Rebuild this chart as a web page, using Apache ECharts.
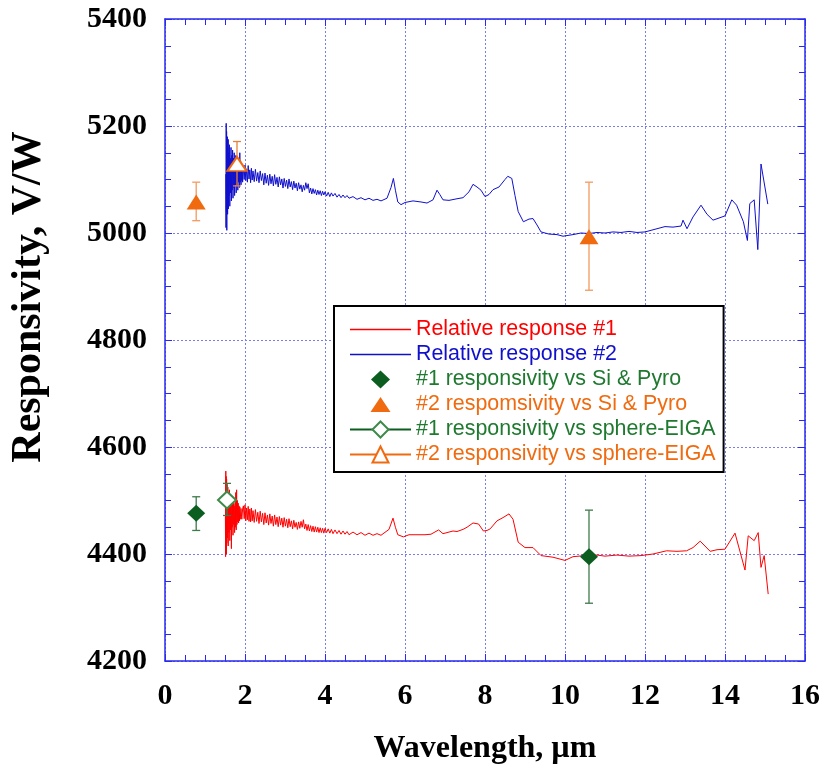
<!DOCTYPE html>
<html>
<head>
<meta charset="utf-8">
<script src="https://cdn.jsdelivr.net/npm/echarts@6/dist/echarts.min.js"></script>
<style>
  html, body { margin: 0; padding: 0; background: #fff; }
  #main { width: 819px; height: 771px; }
</style>
</head>
<body>
<div id="main"></div>
<script>
// relative response curves, [wavelength um, V/W]
var response1 = [
  [1.51,4470],[1.515,4395],[1.52,4555],[1.525,4410],[1.53,4545],[1.535,4400],[1.54,4540],[1.545,4420],
  [1.55,4530],[1.56,4430],[1.57,4525],[1.58,4415],[1.59,4515],[1.6,4440],[1.61,4520],[1.62,4425],
  [1.63,4510],[1.64,4445],[1.65,4500],[1.66,4410],[1.67,4505],[1.68,4450],[1.69,4495],[1.7,4435],
  [1.71,4500],[1.72,4455],[1.73,4490],[1.74,4440],[1.75,4495],[1.76,4450],[1.77,4515],[1.78,4445],
  [1.79,4520],[1.8,4455],[1.81,4500],[1.82,4460],[1.83,4495],[1.84,4458],[1.85,4490],[1.86,4462],
  [1.87,4488],[1.88,4465],[1.9,4485],[1.92,4465],[1.94,4484],
  [1.96,4490],[1.98,4466],[2.0,4492],[2.02,4462],[2.04,4486],[2.06,4464],[2.08,4489],[2.1,4461],
  [2.12,4484],[2.14,4460],[2.16,4486],[2.18,4462],[2.2,4481],[2.23,4459],[2.26,4483],[2.29,4461],
  [2.32,4478],[2.35,4457],[2.38,4480],[2.41,4460],[2.44,4476],[2.47,4455],[2.5,4477],[2.53,4458],
  [2.56,4473],[2.59,4454],[2.62,4475],[2.65,4457],[2.68,4471],[2.71,4452],[2.74,4473],[2.77,4455],
  [2.8,4469],[2.83,4451],[2.86,4470],[2.89,4454],[2.92,4467],[2.95,4450],[2.98,4468],[3.01,4452],
  [3.04,4465],[3.07,4449],[3.1,4466],[3.13,4451],[3.16,4462],[3.19,4447],[3.22,4463],[3.25,4450],
  [3.28,4459],[3.31,4446],[3.34,4460],[3.37,4448],[3.4,4461],[3.43,4450],[3.46,4464],[3.49,4447],
  [3.52,4456],[3.55,4444],[3.58,4455],[3.61,4443],[3.64,4453],[3.67,4442],[3.7,4452],[3.73,4441],
  [3.76,4451],[3.79,4441],[3.82,4450],[3.85,4440],[3.88,4449],[3.91,4440],[3.94,4448],[3.97,4439],
  [4.0,4448],[4.04,4440],[4.08,4447],[4.12,4439],[4.16,4446],[4.2,4438],[4.25,4445],[4.3,4438],
  [4.35,4444],[4.4,4437],[4.45,4443],[4.5,4437],[4.55,4442],[4.6,4436],[4.7,4441],[4.8,4436],
  [4.9,4440],[5.0,4435],[5.1,4439],[5.2,4435],[5.3,4438],[5.4,4435],
  [5.6,4446],[5.7,4467],[5.76,4450],[5.82,4436],[5.96,4432],[6.1,4436],
  [6.3,4436],[6.5,4436],[6.65,4437],[6.84,4445],[6.95,4438],[7.05,4440],[7.2,4443],[7.3,4442],
  [7.45,4446],[7.55,4450],[7.7,4458],[7.84,4456],[7.96,4443],[8.05,4444],[8.13,4447],[8.3,4462],
  [8.45,4468],[8.6,4475],[8.7,4465],[8.83,4422],[9.0,4412],[9.2,4412],[9.4,4397],[9.7,4394],
  [10.0,4388],[10.2,4395],[10.5,4397],[10.8,4398],[11.0,4396],[11.3,4398],[11.6,4396],[11.9,4397],
  [12.2,4400],[12.54,4406],[12.8,4405],[13.04,4406],[13.2,4412],[13.38,4424],[13.63,4405],[13.8,4408],
  [14.0,4409],[14.25,4439],[14.5,4370],[14.58,4434],[14.73,4425],[14.83,4440],[14.9,4375],[14.98,4397],
  [15.08,4325]
];
var response2 = [
  [1.52,5110],[1.525,5010],[1.53,5205],[1.535,5040],[1.54,5190],[1.545,5005],[1.55,5170],[1.555,5050],
  [1.56,5180],[1.565,5035],[1.57,5160],[1.575,5060],[1.58,5175],[1.585,5045],[1.59,5150],[1.6,5070],
  [1.61,5165],[1.62,5050],[1.63,5140],[1.64,5075],[1.65,5160],[1.66,5060],[1.67,5145],[1.68,5080],
  [1.69,5155],[1.7,5065],[1.71,5140],[1.72,5085],[1.73,5150],[1.74,5070],[1.75,5135],[1.76,5090],
  [1.77,5145],[1.78,5075],[1.79,5130],[1.8,5090],[1.81,5140],[1.82,5080],[1.83,5135],[1.84,5095],
  [1.85,5130],[1.86,5085],[1.87,5150],[1.88,5095],[1.89,5135],[1.9,5090],[1.91,5128],[1.92,5098],
  [1.93,5125],[1.94,5095],
  [1.96,5124],[1.98,5100],[2.0,5127],[2.02,5098],[2.04,5120],[2.06,5095],[2.08,5126],[2.1,5101],
  [2.12,5118],[2.14,5094],[2.16,5121],[2.18,5099],[2.2,5116],[2.23,5096],[2.26,5119],[2.29,5097],
  [2.32,5113],[2.35,5094],[2.38,5116],[2.41,5098],[2.44,5111],[2.47,5090],[2.5,5112],[2.53,5093],
  [2.56,5108],[2.59,5089],[2.62,5110],[2.65,5092],[2.68,5106],[2.71,5088],[2.74,5109],[2.77,5091],
  [2.8,5104],[2.83,5086],[2.86,5105],[2.89,5090],[2.92,5101],[2.95,5084],[2.98,5102],[3.01,5087],
  [3.04,5099],[3.07,5083],[3.1,5101],[3.13,5086],[3.16,5096],[3.19,5081],[3.22,5097],[3.25,5084],
  [3.28,5093],[3.31,5079],[3.34,5094],[3.37,5082],[3.4,5090],[3.43,5077],[3.46,5089],[3.49,5080],
  [3.52,5094],[3.55,5083],[3.58,5092],[3.61,5075],[3.64,5084],[3.67,5073],[3.7,5083],[3.73,5074],
  [3.76,5081],[3.79,5071],[3.82,5080],[3.85,5072],[3.88,5079],[3.91,5070],[3.94,5078],[3.97,5071],
  [4.0,5077],[4.04,5069],[4.08,5076],[4.12,5068],[4.16,5075],[4.2,5069],[4.25,5074],[4.3,5067],
  [4.35,5072],[4.4,5066],[4.45,5071],[4.5,5066],[4.55,5070],[4.6,5065],[4.7,5068],[4.8,5063],
  [4.9,5066],[5.0,5062],[5.1,5065],[5.2,5061],[5.3,5063],[5.4,5060],
  [5.55,5065],[5.65,5085],[5.71,5102],[5.76,5080],[5.82,5058],[5.9,5053],[6.0,5057],[6.2,5060],
  [6.4,5058],[6.55,5056],[6.7,5062],[6.8,5080],[6.87,5072],[6.95,5062],[7.1,5061],[7.3,5064],
  [7.45,5066],[7.6,5077],[7.7,5091],[7.8,5086],[7.9,5080],[8.0,5068],[8.1,5072],[8.2,5081],
  [8.35,5086],[8.5,5100],[8.57,5106],[8.67,5102],[8.75,5070],[8.83,5040],[8.96,5021],[9.1,5026],
  [9.2,5027],[9.3,5015],[9.4,5002],[9.6,4998],[9.8,4997],[9.95,4994],[10.2,4997],[10.4,5000],
  [10.6,4999],[10.8,5001],[11.0,5000],[11.2,5002],[11.4,5001],[11.6,5003],[11.8,5001],[12.0,5002],
  [12.2,5006],[12.5,5012],[12.7,5011],[12.9,5013],[12.95,5024],[13.05,5008],[13.2,5030],[13.4,5052],
  [13.55,5035],[13.7,5024],[13.85,5028],[14.0,5032],[14.17,5062],[14.29,5052],[14.46,5021],[14.56,4986],
  [14.62,5055],[14.73,5062],[14.82,4969],[14.9,5129],[15.07,5054]
];

// responsivity points: [wavelength, value], error bars: [wavelength, low, high]
var siPyro1 = [[0.78, 4476], [10.6, 4395]];
var siPyro1Err = [[0.78, 4444, 4507], [10.6, 4308, 4482]];
var siPyro2 = [[0.78, 5058], [10.6, 4993]];
var siPyro2Err = [[0.78, 5023, 5095], [10.6, 4893, 5095]];
var sphere1 = [[1.55, 4501]];
var sphere1Err = [[1.55, 4472, 4532]];
var sphere2 = [[1.8, 5129]];
var sphere2Err = [[1.8, 5088, 5171]];

var names = [
  'Relative response #1',
  'Relative response #2',
  '#1 responsivity vs Si & Pyro',
  '#2 respomsivity vs Si & Pyro',
  '#1 responsivity vs sphere-EIGA',
  '#2 responsivity vs sphere-EIGA'
];

var RED = '#ff0000', BLUE = '#1010cc', GREEN = '#0b5e1f', ORANGE = '#f06a10';
var TXT_GREEN = '#1f7a30';
var AXIS = '#2a2aee';
var serif = 'Liberation Serif';

// legend icons, drawn in a 61x20 box
var ICON_LINE = 'path://M0,0M61,20M0,9.2L61,9.2L61,10.8L0,10.8Z';
var ICON_DIAMOND = 'path://M0,0M61,20M30.5,1L40,10L30.5,19L21,10Z';
var ICON_TRIANGLE = 'path://M0,0M61,20M30.5,2.5L40.5,17.5L20.5,17.5Z';

var chart = echarts.init(document.getElementById('main'));

function errBar(params, api) {
  var x = api.value(0);
  var top = api.coord([x, api.value(2)]);
  var bot = api.coord([x, api.value(1)]);
  var w = 4;
  var st = { stroke: api.visual('color'), lineWidth: 1.3 };
  return {
    type: 'group',
    children: [
      { type: 'line', shape: { x1: top[0], y1: top[1], x2: bot[0], y2: bot[1] }, style: st },
      { type: 'line', shape: { x1: top[0] - w, y1: top[1], x2: top[0] + w, y2: top[1] }, style: st },
      { type: 'line', shape: { x1: bot[0] - w, y1: bot[1], x2: bot[0] + w, y2: bot[1] }, style: st }
    ]
  };
}

function errSeries(data, color) {
  return {
    type: 'custom',
    renderItem: errBar,
    data: data,
    encode: { x: 0, y: [1, 2] },
    itemStyle: { color: color },
    z: 3,
    silent: true
  };
}

var tickCommon = {
  axisLine: { show: true, onZero: false, lineStyle: { color: AXIS, width: 1.5 } },
  axisTick: { show: true, inside: true, length: 7, lineStyle: { color: AXIS } },
  minorTick: { show: true, splitNumber: 4, length: 6, lineStyle: { color: AXIS } },
  splitLine: { show: true, lineStyle: { color: '#7b7bf5', type: [2, 2], width: 1 } }
};

var option = {
  backgroundColor: '#fff',
  animation: false,
  grid: { left: 165, right: 14, top: 19, bottom: 110, outerBoundsMode: 'none', containLabel: false },
  legend: {
    orient: 'vertical',
    left: 334,
    top: 306,
    backgroundColor: '#fff',
    borderColor: '#000',
    borderWidth: 2,
    borderRadius: 0,
    padding: [13, 8, 7, 15],
    itemWidth: 61,
    itemHeight: 20,
    itemGap: 4,
    textStyle: { fontFamily: 'Liberation Sans', fontSize: 21.4 },
    data: [
      { name: names[0], icon: ICON_LINE, itemStyle: { color: RED, borderWidth: 0 }, textStyle: { color: RED } },
      { name: names[1], icon: ICON_LINE, itemStyle: { color: BLUE, borderWidth: 0 }, textStyle: { color: BLUE } },
      { name: names[2], icon: ICON_DIAMOND, itemStyle: { color: GREEN, borderWidth: 0 }, textStyle: { color: TXT_GREEN } },
      { name: names[3], icon: ICON_TRIANGLE, itemStyle: { color: ORANGE, borderWidth: 0 }, textStyle: { color: ORANGE } },
      { name: names[4], textStyle: { color: TXT_GREEN } },
      { name: names[5], textStyle: { color: ORANGE } }
    ]
  },
  xAxis: [
    Object.assign({
      type: 'value', min: 0, max: 16, interval: 2,
      name: 'Wavelength, \u00b5m',
      nameLocation: 'middle',
      nameGap: 72,
      nameTextStyle: { fontFamily: serif, fontWeight: 'bold', fontSize: 32, color: '#000' },
      axisLabel: { fontFamily: serif, fontWeight: 'bold', fontSize: 30, color: '#000', margin: 20 }
    }, tickCommon),
    Object.assign({}, tickCommon, {
      type: 'value', min: 0, max: 16, interval: 2, position: 'top',
      axisLabel: { show: false }, splitLine: { show: false }
    })
  ],
  yAxis: [
    Object.assign({
      type: 'value', min: 4200, max: 5400, interval: 200,
      name: 'Responsivity, V/W',
      nameLocation: 'middle',
      nameGap: 115,
      nameTextStyle: { fontFamily: serif, fontWeight: 'bold', fontSize: 42, color: '#000', padding: [0, 0, 0, 86] },
      axisLabel: {
        fontFamily: serif, fontWeight: 'bold', fontSize: 30, color: '#000', margin: 18,
        formatter: function (v) { return String(v); }
      }
    }, tickCommon),
    Object.assign({}, tickCommon, {
      type: 'value', min: 4200, max: 5400, interval: 200, position: 'right',
      axisLabel: { show: false }, splitLine: { show: false }
    })
  ],
  series: [
    {
      name: names[0], type: 'line', data: response1, symbol: 'none',
      lineStyle: { color: RED, width: 1 }, itemStyle: { color: RED }, z: 2
    },
    {
      name: names[1], type: 'line', data: response2, symbol: 'none',
      lineStyle: { color: BLUE, width: 1 }, itemStyle: { color: BLUE }, z: 2
    },
    errSeries(siPyro1Err, '#3f7a4a'),
    errSeries(siPyro2Err, '#f39a60'),
    errSeries(sphere1Err, '#3f7a4a'),
    errSeries(sphere2Err, '#e8803c'),
    {
      name: names[2], type: 'scatter', data: siPyro1, symbol: 'diamond', symbolSize: [18, 17],
      itemStyle: { color: GREEN, opacity: 1 }, z: 5
    },
    {
      name: names[3], type: 'scatter', data: siPyro2, symbol: 'triangle', symbolSize: [19, 15],
      itemStyle: { color: ORANGE, opacity: 1 }, z: 5
    },
    {
      name: names[4], type: 'line', data: sphere1, symbol: 'emptyDiamond', symbolSize: [18, 17],
      lineStyle: { color: GREEN, width: 1 }, itemStyle: { color: '#3f8a4a', borderWidth: 1 }, z: 5
    },
    {
      name: names[5], type: 'line', data: sphere2, symbol: 'emptyTriangle', symbolSize: [19, 14],
      lineStyle: { color: ORANGE, width: 1 }, itemStyle: { color: ORANGE, borderWidth: 1.2 }, z: 5
    }
  ]
};

chart.setOption(option);
</script>
</body>
</html>
